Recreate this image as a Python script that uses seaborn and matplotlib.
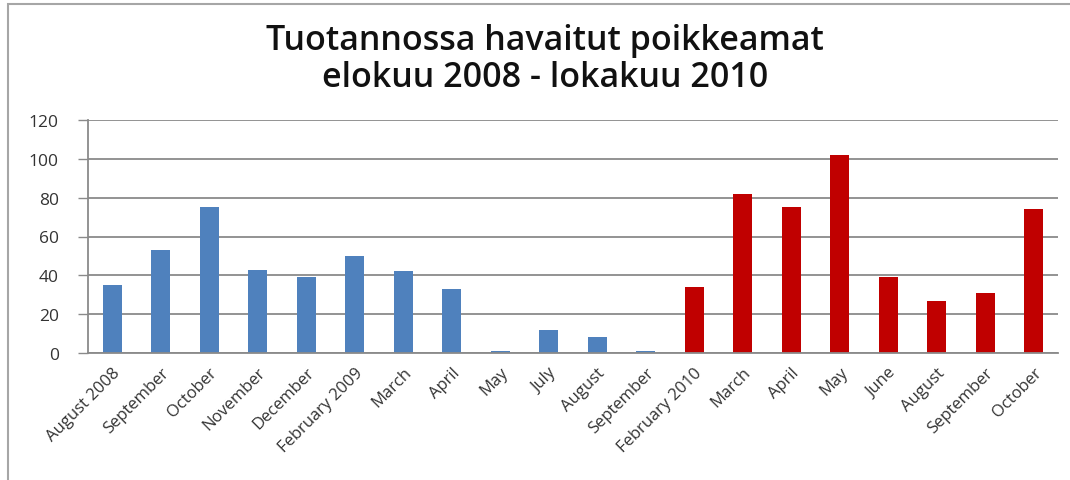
import numpy as np
import pandas as pd
import matplotlib
matplotlib.use("Agg")
import matplotlib.pyplot as plt
from matplotlib.patches import Rectangle
import seaborn as sns

# Monthly counts of deviations found in production
months = ["August 2008", "September", "October", "November", "December",
          "February 2009", "March", "April", "May", "July", "August",
          "September", "February 2010", "March", "April", "May", "June",
          "August", "September", "October"]
counts = [35, 53, 75, 43, 39, 50, 42, 33, 1, 12, 8, 1,
          34, 82, 75, 102, 39, 27, 31, 74]
period = ["2008-2009"] * 12 + ["2010"] * 8
period_colors = {"2008-2009": "#4F81BD", "2010": "#C00000"}
y_ticks = [0, 20, 40, 60, 80, 100, 120]

df = pd.DataFrame({"pos": np.arange(len(months)), "count": counts, "period": period})

sns.set_style("white")
plt.rcParams["font.family"] = ["Open Sans", "DejaVu Sans"]

W, H = 1070, 481
fig = plt.figure(figsize=(W / 100, H / 100), dpi=100)
ax = fig.add_axes([88 / W, 1 - 354 / H, (1058 - 88) / W, (354 - 121) / H])

sns.barplot(data=df, x="pos", y="count", hue="period", palette=period_colors,
            dodge=False, width=0.39, legend=False, native_scale=True, ax=ax,
            linewidth=0, saturation=1)

ax.set_xlim(-0.5, len(months) - 0.5)
ax.set_ylim(0, 120)
ax.set_yticks(y_ticks)
ax.set_yticklabels([str(v) for v in y_ticks], fontsize=12.5, color="#333333")
ax.yaxis.grid(True, color="#8a8a8a", linewidth=1.3)
ax.set_axisbelow(True)

ax.set_xticks(np.arange(len(months)))
ax.set_xticklabels(months, rotation=45, ha="right", rotation_mode="anchor",
                   fontsize=12, color="#333333")
ax.set_xticks(np.arange(len(months) + 1) - 0.5, minor=True)
ax.tick_params(axis="x", which="major", length=0, pad=8)
ax.tick_params(axis="x", which="minor", length=5, width=1, color="#8a8a8a")
ax.tick_params(axis="y", which="major", length=7, width=1, color="#8a8a8a",
               pad=14, left=True)
ax.set_xlabel("")
ax.set_ylabel("")

for side in ("top", "right"):
    ax.spines[side].set_visible(False)
for side in ("left", "bottom"):
    ax.spines[side].set_color("#8a8a8a")
    ax.spines[side].set_linewidth(1.3)

fig.text(545 / W, 1 - 41 / H, "Tuotannossa havaitut poikkeamat",
         ha="center", va="center", fontsize=24.5, fontweight="semibold", color="#111111")
fig.text(545 / W, 1 - 78 / H, "elokuu 2008 - lokakuu 2010",
         ha="center", va="center", fontsize=24.5, fontweight="semibold", color="#111111")

# Chart area frame
fig.patches.append(Rectangle((8 / W, -0.2), 1.2, 1 - 5 / H + 0.2,
                             transform=fig.transFigure, fill=False,
                             edgecolor="#a6a6a6", linewidth=1.5))

fig.savefig("out.png", dpi=100)
